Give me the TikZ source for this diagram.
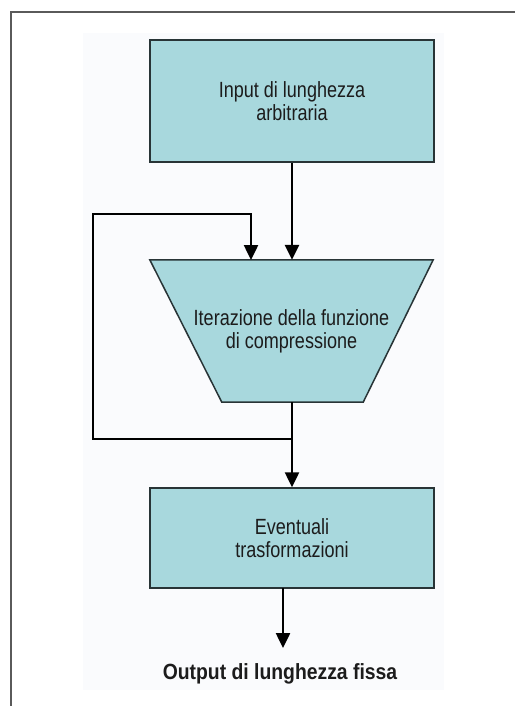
\documentclass[tikz,border=0pt]{standalone}
\usepackage{fontspec}
\setmainfont{Liberation Sans}[FakeStretch=0.82]
\newfontfamily\outfont{Liberation Sans}[FakeStretch=0.88]
\usetikzlibrary{arrows.meta,calc}
\definecolor{boxfill}{RGB}{168,216,221}
\definecolor{boxline}{RGB}{40,52,54}
\definecolor{txt}{RGB}{28,28,28}
\definecolor{bgpale}{RGB}{250,251,253}
\definecolor{framec}{RGB}{90,90,90}
\begin{document}
\begin{tikzpicture}[x=1pt,y=-1pt,
  boxstyle/.style={draw=boxline,line width=1.5pt,fill=boxfill,minimum width=284pt,
    text=txt,align=center,font=\fontsize{22}{23}\selectfont,inner sep=0pt},
  arr/.style={line width=2.5pt,-{Triangle[width=14pt,length=15pt]}},
  plainline/.style={line width=2.5pt}]
\useasboundingbox (0,0) rectangle (515,706);
\fill[bgpale] (83,33) rectangle (444,690);
\draw[framec,line width=1.5pt] (11,706) -- (11,12) -- (515,12);
% top box
\node[boxstyle,minimum height=122pt] (top) at (292,101) {Input di lunghezza\\arbitraria};
% trapezoid
\node[minimum width=283pt,minimum height=142pt,inner sep=0pt] (trap) at (291.5,331) {};
\draw[draw=boxline,line width=1.5pt,fill=boxfill]
  (trap.north west) -- (trap.north east) -- ($(trap.south east)+(-70,0)$)
  -- ($(trap.south west)+(72,0)$) -- cycle;
\node[text=txt,align=center,font=\fontsize{22}{23}\selectfont] (traptext) at (trap.center)
  {Iterazione della funzione\\di compressione};
% lower box
\node[boxstyle,minimum height=100pt] (low) at (292,538) {Eventuali\\trasformazioni};
% output
\node[text=txt,font=\outfont\bfseries\fontsize{22}{23}\selectfont,anchor=base,inner sep=0pt]
  (out) at (280,679) {Output di lunghezza fissa};
% connectors
\draw[arr] (top.south) -- (top.south |- trap.north);
\coordinate (fb) at (251,260);
\coordinate (j) at (292,439);
\coordinate (lb) at (93,439);
\coordinate (lt) at (93,214);
\draw[arr] (292,402) -- (low.north);
\draw[arr,line join=miter] (j) -- (lb) -- (lt) -| (fb);
\coordinate (ob) at (283,588);
\coordinate (ot) at (283,648);
\draw[arr] (ob) -- (ot);
\end{tikzpicture}
\end{document}
